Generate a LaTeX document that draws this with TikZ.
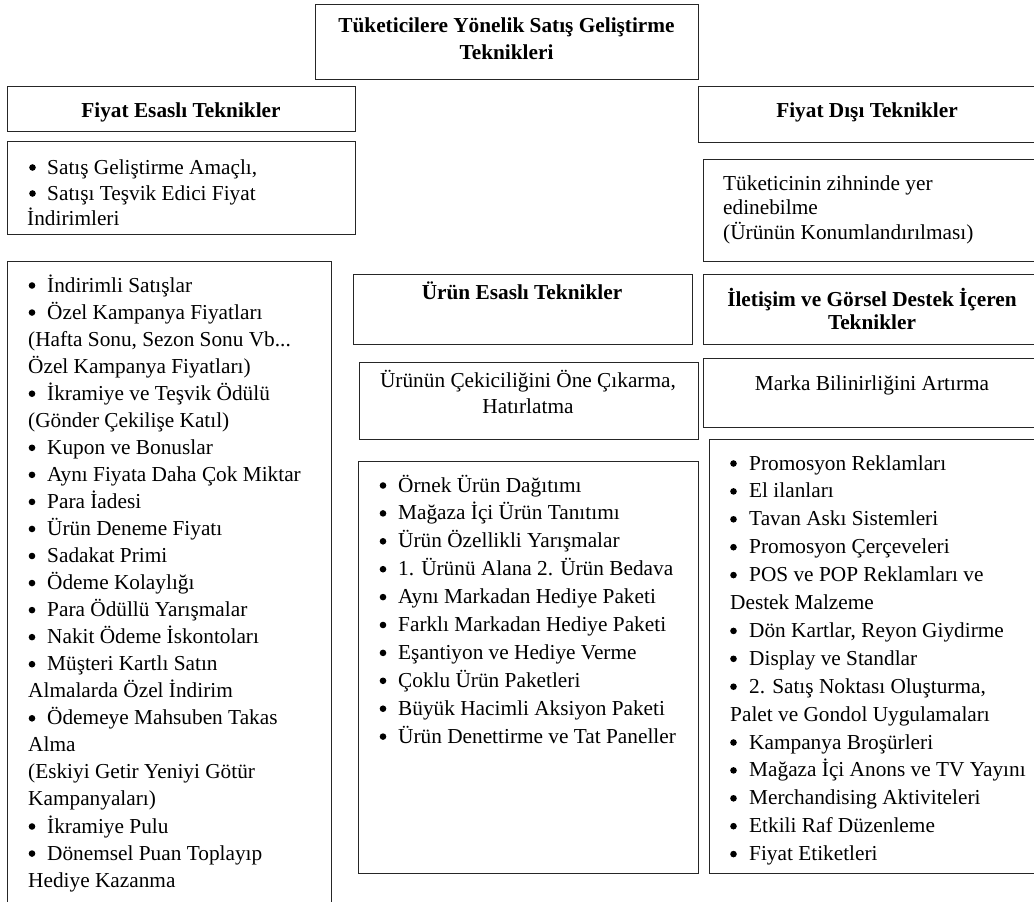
\documentclass[tikz,border=0pt]{standalone}
\usepackage{fontspec}
\setmainfont{Liberation Serif}
\newcommand\fsz{\fontsize{21.3}{27}\selectfont}
\tikzset{
  box/.style={draw=black!85, line width=1.2pt, inner sep=0pt, anchor=north west},
  txt/.style={inner sep=0pt, font=\fsz},
  btxt/.style={inner sep=0pt, font=\fsz\bfseries},
  bul/.style={circle, fill=black, draw=none, inner sep=0pt, minimum size=6.6pt},
}
\begin{document}
\begin{tikzpicture}[x=1pt,y=-1pt]
\useasboundingbox (0,0) rectangle (1034,902);
\clip (0,0) rectangle (1034,902);
% boxes
\node[box, minimum width=383pt, minimum height=75pt] (top) at (315,4) {};
\node[box, minimum width=348pt, minimum height=45pt] (fe) at (7,86) {};
\node[box, minimum width=350pt, minimum height=56pt] (fd) at (698,86) {};
\node[box, minimum width=348pt, minimum height=93pt] (satis) at (7,141) {};
\node[box, minimum width=324pt, minimum height=660pt] (llist) at (7,261) {};
\node[box, minimum width=339pt, minimum height=70pt] (ue) at (353,274) {};
\node[box, minimum width=339pt, minimum height=77pt] (cek) at (359,362) {};
\node[box, minimum width=340pt, minimum height=412pt] (ulist) at (358,461) {};
\node[box, minimum width=345pt, minimum height=102pt] (tuk) at (703,159) {};
\node[box, minimum width=345pt, minimum height=70pt] (ilet) at (703,274) {};
\node[box, minimum width=345pt, minimum height=69pt] (marka) at (703,358) {};
\node[box, minimum width=340pt, minimum height=434pt] (rlist) at (709,439) {};
% titles
\node[btxt, anchor=base] (top1) at (506.5,32) {Tüketicilere Yönelik Satış Geliştirme};
\node[btxt, anchor=base] (top2) at (506.5,59) {Teknikleri};
\node[btxt, anchor=base] (fet) at (181,117) {Fiyat Esaslı Teknikler};
\node[btxt, anchor=base] (fdt) at (867,117) {Fiyat Dışı Teknikler};
\node[btxt, anchor=base] (uet) at (522,299) {Ürün Esaslı Teknikler};
\node[txt, anchor=base] (cek1) at (528,387) {Ürünün Çekiciliğini Öne Çıkarma,};
\node[txt, anchor=base] (cek2) at (528,413) {Hatırlatma};
\node[txt, anchor=base west] (tuk1) at (723,190) {Tüketicinin zihninde yer};
\node[txt, anchor=base west] (tuk2) at (723,214) {edinebilme};
\node[txt, anchor=base west] (tuk3) at (723,239) {(Ürünün Konumlandırılması)};
\node[btxt, anchor=base] (ilet1) at (872,306) {İletişim ve Görsel Destek İçeren};
\node[btxt, anchor=base] (ilet2) at (872,329) {Teknikler};
\node[txt, anchor=base] (marka1) at (872,390) {Marka Bilinirliğini Artırma};
% satis list
\node[bul] (sb1) at (32.5,167.5) {};
\node[txt, anchor=base west] (s1) at (47,174) {Satış Geliştirme Amaçlı,};
\node[bul] (sb2) at (32.5,193.5) {};
\node[txt, anchor=base west] (s2) at (47,200) {Satışı Teşvik Edici Fiyat};
\node[txt, anchor=base west] (s3) at (27,225) {İndirimleri};
% left list
\foreach \k/\t [count=\i from 0] in {
  1/{İndirimli Satışlar},
  1/{Özel Kampanya Fiyatları},
  0/{(Hafta Sonu, Sezon Sonu Vb...},
  0/{Özel Kampanya Fiyatları)},
  1/{İkramiye ve Teşvik Ödülü},
  0/{(Gönder Çekilişe Katıl)},
  1/{Kupon ve Bonuslar},
  1/{Aynı Fiyata Daha Çok Miktar},
  1/{Para İadesi},
  1/{Ürün Deneme Fiyatı},
  1/{Sadakat Primi},
  1/{Ödeme Kolaylığı},
  1/{Para Ödüllü Yarışmalar},
  1/{Nakit Ödeme İskontoları},
  1/{Müşteri Kartlı Satın},
  0/{Almalarda Özel İndirim},
  1/{Ödemeye Mahsuben Takas},
  0/{Alma},
  0/{(Eskiyi Getir Yeniyi Götür},
  0/{Kampanyaları)},
  1/{İkramiye Pulu},
  1/{Dönemsel Puan Toplayıp},
  0/{Hediye Kazanma}} {
  \pgfmathsetmacro\yy{292+27.05*\i}
  \pgfmathsetmacro\by{\yy-6.5}
  \ifnum\k=1
    \node[bul] (Lb\i) at (32,\by) {};
    \node[txt, anchor=base west] (L\i) at (47,\yy) {\t};
  \else
    \node[txt, anchor=base west] (L\i) at (28,\yy) {\t};
  \fi
}
% urun list
\foreach \t [count=\i from 0] in {
  {Örnek Ürün Dağıtımı},
  {Mağaza İçi Ürün Tanıtımı},
  {Ürün Özellikli Yarışmalar},
  {1. Ürünü Alana 2. Ürün Bedava},
  {Aynı Markadan Hediye Paketi},
  {Farklı Markadan Hediye Paketi},
  {Eşantiyon ve Hediye Verme},
  {Çoklu Ürün Paketleri},
  {Büyük Hacimli Aksiyon Paketi},
  {Ürün Denettirme ve Tat Paneller}} {
  \pgfmathsetmacro\yy{492+27.9*\i}
  \pgfmathsetmacro\by{\yy-6.5}
  \node[bul] (Ub\i) at (383,\by) {};
  \node[txt, anchor=base west] (U\i) at (398,\yy) {\t};
}
% right list
\foreach \k/\t [count=\i from 0] in {
  1/{Promosyon Reklamları},
  1/{El ilanları},
  1/{Tavan Askı Sistemleri},
  1/{Promosyon Çerçeveleri},
  1/{POS ve POP Reklamları ve},
  0/{Destek Malzeme},
  1/{Dön Kartlar, Reyon Giydirme},
  1/{Display ve Standlar},
  1/{2. Satış Noktası Oluşturma,},
  0/{Palet ve Gondol Uygulamaları},
  1/{Kampanya Broşürleri},
  1/{Mağaza İçi Anons ve TV Yayını},
  1/{Merchandising Aktiviteleri},
  1/{Etkili Raf Düzenleme},
  1/{Fiyat Etiketleri}} {
  \pgfmathsetmacro\yy{470+27.9*\i}
  \pgfmathsetmacro\by{\yy-6.5}
  \ifnum\k=1
    \node[bul] (Rb\i) at (733.5,\by) {};
    \node[txt, anchor=base west] (R\i) at (749,\yy) {\t};
  \else
    \node[txt, anchor=base west] (R\i) at (730,\yy) {\t};
  \fi
}
\end{tikzpicture}
\end{document}
